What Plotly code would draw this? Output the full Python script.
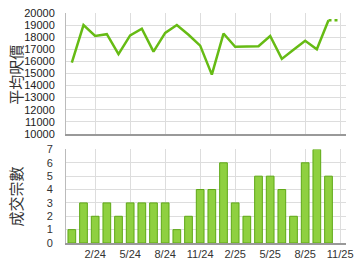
import plotly.graph_objects as go

months = ["12/23","1/24","2/24","3/24","4/24","5/24","6/24","7/24","8/24","9/24","10/24","11/24",
          "12/24","1/25","2/25","3/25","4/25","5/25","6/25","7/25","8/25","9/25","10/25"]
avg_price = [15900,19000,18100,18250,16600,18150,18700,16800,18350,19000,18200,17300,
             14900,18300,17200,17250,17250,18100,16200,16950,17700,17000,19400]
deals = [1,3,2,3,2,3,3,3,3,1,2,4,4,6,3,2,5,5,4,2,6,7,5]
tick_labels = ["2/24","5/24","8/24","11/24","2/25","5/25","8/25","11/25"]
tick_pos = [2,5,8,11,14,17,20,23]
ext_x = [22, 23]
ext_y = [avg_price[-1], avg_price[-1]]

x = list(range(len(months)))

fig = go.Figure()
fig.add_trace(go.Scatter(x=x, y=avg_price, mode="lines", line=dict(color="#66bb14", width=2.5),
                         xaxis="x", yaxis="y", hoverinfo="skip", cliponaxis=False))
fig.add_trace(go.Scatter(x=ext_x, y=ext_y, mode="lines", line=dict(color="#66bb14", width=2.5, dash="dot"),
                         xaxis="x", yaxis="y", hoverinfo="skip"))
fig.add_trace(go.Bar(x=x, y=deals, width=0.66,
                     marker=dict(color="#8fd040", line=dict(color="#5ea815", width=1)),
                     xaxis="x2", yaxis="y2", hoverinfo="skip"))

grid = "#dddddd"
L, R, T, B = 66, 7, 7, 27
pw, ph = 360 - L - R, 270 - T - B
def px(v): return (v - L) / pw
def py(v): return 1 - (v - T) / ph

axfont = dict(family="Arial, Liberation Sans, sans-serif", size=11, color="#222222")
fig.update_layout(
    width=360, height=270,
    margin=dict(l=L, r=R, t=T, b=B),
    paper_bgcolor="white", plot_bgcolor="white",
    showlegend=False,
    xaxis=dict(domain=[0,1], range=[-0.5,23.5], tickvals=tick_pos, ticktext=[""]*len(tick_pos),
               showgrid=True, gridcolor=grid, zeroline=False, anchor="y",
               showline=True, linecolor="#999999", linewidth=2, ticks=""),
    yaxis=dict(domain=[py(131),1], range=[10000,20000], dtick=1000, tickformat="d", showgrid=True, gridcolor=grid,
               zeroline=False, tickfont=axfont, showline=True, linecolor="#bbbbbb",
               linewidth=1, ticks="", ticklabelstandoff=8, ticklabeloverflow="allow"),
    xaxis2=dict(domain=[0,1], range=[-0.5,23.5], tickvals=tick_pos, ticktext=tick_labels,
                showgrid=True, gridcolor=grid, zeroline=False, anchor="y2",
                showline=True, linecolor="#999999", linewidth=2, ticks="", ticklabeloverflow="allow",
                tickfont=dict(family="Arial, Liberation Sans, sans-serif", size=11, color="#333333")),
    yaxis2=dict(domain=[0,py(147)], range=[0,7], dtick=1, showgrid=True, gridcolor=grid,
                zeroline=False, tickfont=dict(family="Arial, Liberation Sans, sans-serif", size=11, color="#333333"),
                showline=True, linecolor="#bbbbbb", linewidth=1, ticks="", ticklabelstandoff=10,
                ticklabeloverflow="allow"),
    annotations=[
        dict(text="平均呎價", x=px(14), y=py(70), xref="paper", yref="paper", showarrow=False, textangle=-90,
             xanchor="center", yanchor="middle",
             font=dict(family="Noto Sans CJK TC", size=15, color="#333333")),
        dict(text="成交宗數", x=px(14), y=py(195), xref="paper", yref="paper", showarrow=False, textangle=-90,
             xanchor="center", yanchor="middle",
             font=dict(family="Noto Sans CJK TC", size=15, color="#333333")),
    ],
)

fig.write_html("out.html")
